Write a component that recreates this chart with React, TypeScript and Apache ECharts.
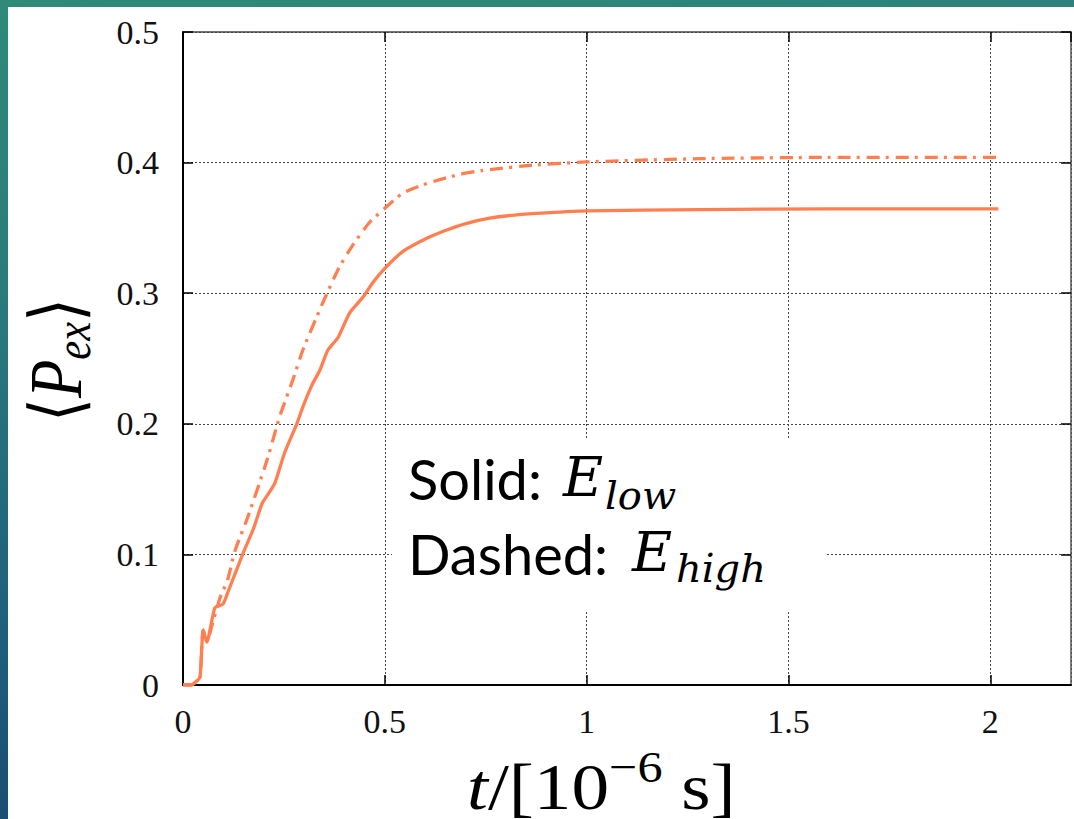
import React, { useEffect, useRef } from "react";
import * as echarts from "echarts";

// ---- data ----
const tSolid = [0, 0.02, 0.03, 0.042, 0.05, 0.059, 0.079, 0.099, 0.111, 0.13, 0.149, 0.175, 0.196, 0.215, 0.228, 0.252, 0.282, 0.297, 0.32, 0.339, 0.359, 0.384, 0.413, 0.446, 0.47, 0.5, 0.545, 0.604, 0.65, 0.703, 0.76, 0.827, 0.9, 1.0, 1.28, 1.6, 2.02];
const pSolid = [0, 0, 0.002, 0.006, 0.042, 0.033, 0.059, 0.062, 0.071, 0.086, 0.101, 0.12, 0.139, 0.148, 0.155, 0.178, 0.2, 0.213, 0.23, 0.241, 0.2565, 0.266, 0.285, 0.297, 0.308, 0.319, 0.332, 0.342, 0.348, 0.3535, 0.3575, 0.36, 0.3615, 0.363, 0.364, 0.3645, 0.3645];

const tDashed = [0, 0.02, 0.03, 0.042, 0.05, 0.059, 0.072, 0.092, 0.11, 0.129, 0.161, 0.208, 0.24, 0.272, 0.297, 0.344, 0.384, 0.421, 0.463, 0.5, 0.545, 0.604, 0.686, 0.743, 0.866, 1.0, 1.28, 1.6, 2.02];
const pDashed = [0, 0, 0.002, 0.006, 0.042, 0.033, 0.046, 0.067, 0.08, 0.103, 0.129, 0.172, 0.206, 0.2335, 0.2565, 0.291, 0.318, 0.337, 0.3545, 0.365, 0.3767, 0.384, 0.391, 0.394, 0.398, 0.4005, 0.403, 0.404, 0.404];

const xTicks = { min: 0, max: 2.2, interval: 0.5 };
const yTicks = { min: 0, max: 0.5, interval: 0.1 };

const LINE_COLOR = "#ff7f50";
const SERIF = "Liberation Serif, DejaVu Serif, serif";
const MATH = "DejaVu Serif, Liberation Serif, serif";
const SANS = "Lato, Open Sans, sans-serif";

const zip = (a: number[], b: number[]) => a.map((v, i) => [v, b[i]]);

type Piece = { text: string; font: string; dy: number };

let measureCtx: CanvasRenderingContext2D | null = null;
function measure(font: string, text: string): number {
  if (!measureCtx) measureCtx = document.createElement("canvas").getContext("2d");
  if (!measureCtx) return text.length * 20;
  measureCtx.font = font;
  return measureCtx.measureText(text).width;
}

// lays pieces out left to right, starting at local x = 0 (or centred)
function row(pieces: Piece[], centred: boolean) {
  const widths = pieces.map((p) => measure(p.font, p.text));
  const total = widths.reduce((a, b) => a + b, 0);
  let x = centred ? -total / 2 : 0;
  return pieces.map((p, i) => {
    const el = {
      type: "text",
      x,
      y: p.dy,
      z: 110,
      style: {
        text: p.text,
        font: p.font,
        fill: "#000",
        align: "left",
        textAlign: "left",
        verticalAlign: "middle",
        textVerticalAlign: "middle",
      },
    };
    x += widths[i];
    return el;
  });
}

export default function App() {
  const ref = useRef<HTMLDivElement>(null);

  useEffect(() => {
    if (!ref.current) return;
    const chart = echarts.init(ref.current, undefined, { renderer: "svg" });

    const splitLine = { show: true, lineStyle: { color: "#444", width: 1, type: [2, 2] as any } };
    const tickLabel = { fontFamily: SERIF, fontSize: 34, color: "#111" };

    const txt = (x: number, y: number, text: string, font: string) => ({
      type: "text",
      x,
      y,
      z: 110,
      style: {
        text,
        font,
        fill: "#000",
        align: "left",
        textAlign: "left",
        verticalAlign: "middle",
        textVerticalAlign: "middle",
      },
    });

    const xNamePieces: Piece[] = [
      { text: "t", font: `italic 66px ${SERIF}`, dy: 0 },
      { text: "/[10", font: `66px ${SERIF}`, dy: 0 },
      { text: "−6", font: `44px ${SERIF}`, dy: -20 },
      { text: " s]", font: `66px ${SERIF}`, dy: 0 },
    ];
    const yNamePieces: Piece[] = [
      { text: "⟨", font: `72px ${MATH}`, dy: 0 },
      { text: "P", font: `italic 74px ${SERIF}`, dy: 0 },
      { text: "ex", font: `italic 50px ${SERIF}`, dy: 17 },
      { text: "⟩", font: `72px ${MATH}`, dy: 0 },
    ];

    chart.setOption({
      animation: false,
      backgroundColor: "#ffffff",
      grid: { left: 175, top: 25, right: 3, bottom: 134, containLabel: false },
      xAxis: [
        {
          type: "value",
          position: "bottom",
          ...xTicks,
          axisLine: { show: true, onZero: false, lineStyle: { color: "#000", width: 2 } },
          axisTick: { show: true, inside: true, length: 10, lineStyle: { color: "#000", width: 1.5 } },
          axisLabel: {
            ...tickLabel,
            margin: 19,
            showMaxLabel: false,
            formatter: (v: number) => String(v),
          },
          splitLine,
        },
        {
          type: "value",
          position: "top",
          ...xTicks,
          axisLine: { show: true, onZero: false, lineStyle: { color: "#444", width: 1.5 } },
          axisTick: { show: true, inside: true, length: 10, lineStyle: { color: "#000", width: 1.5 } },
          axisLabel: { show: false },
          splitLine: { show: false },
        },
      ],
      yAxis: [
        {
          type: "value",
          position: "left",
          ...yTicks,
          axisLine: { show: true, onZero: false, lineStyle: { color: "#000", width: 2 } },
          axisTick: { show: true, inside: true, length: 10, lineStyle: { color: "#000", width: 1.5 } },
          axisLabel: {
            ...tickLabel,
            margin: 24,
            formatter: (v: number) => (v === 0 ? "0" : v.toFixed(1)),
          },
          splitLine,
        },
        {
          type: "value",
          position: "right",
          ...yTicks,
          axisLine: { show: true, onZero: false, lineStyle: { color: "#555", width: 1.5 } },
          axisTick: { show: true, inside: true, length: 10, lineStyle: { color: "#000", width: 1.5 } },
          axisLabel: { show: false },
          splitLine: { show: false },
        },
      ],
      series: [
        {
          name: "Solid",
          type: "line",
          data: zip(tSolid, pSolid),
          showSymbol: false,
          symbol: "none",
          smooth: 0.2,
          lineStyle: { color: LINE_COLOR, width: 3.3 },
          z: 5,
        },
        {
          name: "Dashed",
          type: "line",
          data: zip(tDashed, pDashed),
          showSymbol: false,
          symbol: "none",
          smooth: 0.2,
          lineStyle: { color: LINE_COLOR, width: 3.3, type: [13, 6, 3, 7] as any },
          z: 5,
        },
      ],
      graphic: [
        {
          type: "rect",
          z: 100,
          shape: { x: 384, y: 433, width: 434, height: 172 },
          style: { fill: "#ffffff" },
        },
        txt(400, 471, "Solid:", `56px ${SANS}`),
        txt(555, 470, "E", `italic 55px ${MATH}`),
        txt(597, 488, "low", `italic 40px ${MATH}`),
        txt(400, 546, "Dashed:", `56px ${SANS}`),
        txt(624, 545, "E", `italic 55px ${MATH}`),
        txt(668, 561, "high", `italic 40px ${MATH}`),
        {
          type: "group",
          x: 459,
          y: 780,
          scaleX: 1.14,
          children: row(xNamePieces, false),
        },
        {
          type: "group",
          x: 48,
          y: 353,
          rotation: Math.PI / 2,
          scaleX: 0.85,
          children: row(yNamePieces, true),
        },
      ],
    });

    return () => chart.dispose();
  }, []);

  return (
    <div
      style={{
        position: "fixed",
        left: 0,
        top: 0,
        width: 1074,
        height: 819,
        overflow: "hidden",
        background: "linear-gradient(172deg, #2f8a78 0%, #2a7b7c 30%, #1f5f7c 65%, #163f6c 100%)",
      }}
    >
      <div
        ref={ref}
        style={{ position: "absolute", left: 8, top: 7, width: 1066, height: 812, background: "#fff" }}
      />
    </div>
  );
}
